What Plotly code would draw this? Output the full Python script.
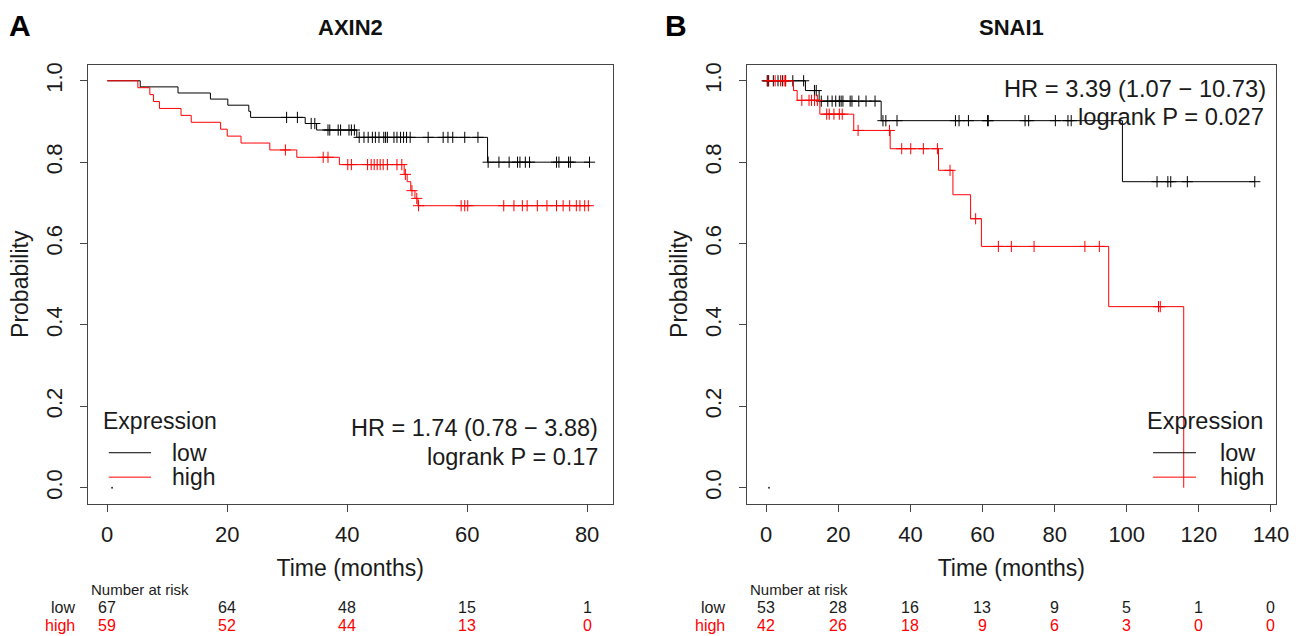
import numpy as np
import plotly.graph_objects as go

FONT = "Liberation Sans, Arial, Helvetica, sans-serif"
W, H = 1308, 636
RED = "#ff0000"
BLK = "#000000"
AX = "#454545"

# ---------------- Panel A: AXIN2 ----------------
axin2_low_event_t = [5.5, 11.8, 17.2, 20.1, 23.6, 23.9, 33.0, 34.9, 41.6, 63.4]
axin2_low_event_s = [0.985, 0.970, 0.955, 0.940, 0.925, 0.910, 0.895, 0.879, 0.861, 0.800]
axin2_low_censor_t = [29.9, 31.7, 34.0, 34.6, 36.8, 37.1, 38.5, 38.9, 40.3, 40.7, 41.2,
                      42.0, 42.8, 43.5, 44.2, 44.7, 45.3, 46.1, 46.4, 46.7, 47.8, 48.3,
                      48.9, 49.4, 49.9, 50.5, 53.5, 56.0, 56.8, 57.6, 59.6, 61.8,
                      63.5, 65.3, 67.0, 68.4, 68.8, 69.7, 70.4, 74.9, 75.3, 76.9, 77.2, 80.4]
axin2_low_end = 80.4

axin2_high_event_t = [5.1, 7.1, 7.7, 8.7, 12.3, 14.0, 18.9, 20.0, 22.3, 27.1, 31.6, 38.7,
                      49.5, 50.0, 50.6, 51.3, 51.8]
axin2_high_event_s = [0.983, 0.966, 0.949, 0.932, 0.915, 0.898, 0.881, 0.864, 0.847, 0.830,
                      0.812, 0.794, 0.770, 0.752, 0.730, 0.711, 0.693]
axin2_high_censor_t = [29.7, 36.0, 36.8, 40.1, 40.7, 43.4, 44.0, 44.5, 45.0, 45.5, 46.0,
                       46.7, 48.3, 49.1, 49.7, 50.8, 51.6, 51.9, 59.0, 59.6, 60.1, 66.1,
                       67.8, 69.2, 70.0, 71.7, 73.3, 74.9, 76.0, 77.1, 78.2, 78.8, 79.6, 80.2]
axin2_high_end = 80.2

axin2_risk_times = [0, 20, 40, 60, 80]
axin2_risk_low = [67, 64, 48, 15, 1]
axin2_risk_high = [59, 52, 44, 13, 0]
axin2_hr_text = ["HR = 1.74 (0.78 \u2212 3.88)", "logrank P = 0.17"]

# ---------------- Panel B: SNAI1 ----------------
snai1_low_event_t = [10.9, 14.7, 31.9, 98.8]
snai1_low_event_s = [0.976, 0.950, 0.902, 0.752]
snai1_low_censor_t = [0.3, 0.5, 0.7, 2.0, 3.3, 4.5, 5.4, 7.4, 10.4, 13.4, 13.9, 15.3, 17.1,
                      18.3, 19.3, 20.3, 20.8, 21.3, 23.3, 23.8, 25.7, 27.7, 30.2, 32.4,
                      33.2, 36.3, 52.5, 53.5, 56.1, 61.4, 61.6, 71.8, 72.8, 80.2, 83.7,
                      84.6, 108.4, 111.4, 112.2, 116.8, 135.5]
snai1_low_end = 135.5

snai1_high_event_t = [7.6, 8.6, 14.9, 24.3, 34.4, 47.8, 51.8, 56.7, 59.7, 95.0, 115.8]
snai1_high_event_s = [0.976, 0.952, 0.918, 0.878, 0.833, 0.780, 0.720, 0.661, 0.593, 0.445, 0.0]
snai1_high_censor_t = [0.5, 2.5, 4.0, 5.0, 5.4, 9.9, 11.9, 12.6, 13.4, 14.2, 16.8, 17.5,
                       18.8, 20.3, 21.1, 25.5, 34.2, 37.6, 40.1, 43.6, 47.5, 51.0, 58.1,
                       64.4, 68.0, 74.3, 88.4, 92.4, 108.8, 109.3]
snai1_high_end = 115.8

snai1_risk_times = [0, 20, 40, 60, 80, 100, 120, 140]
snai1_risk_low = [53, 28, 16, 13, 9, 5, 1, 0]
snai1_risk_high = [42, 26, 18, 9, 6, 3, 0, 0]
snai1_hr_text = ["HR = 3.39 (1.07 \u2212 10.73)", "logrank P = 0.027"]

stray_point = [0.8, 0.0]


def step_xy(t, s, end):
    x = [0.0] + list(t)
    y = [1.0] + list(s)
    if end > x[-1]:
        x.append(end)
        y.append(y[-1])
    return x, y


def surv_at(t_events, s_events, tc):
    levels = np.array([1.0] + list(s_events))
    idx = np.searchsorted(np.array(t_events), np.array(tc), side="right")
    return levels[idx]


fig = go.Figure()


def add_curves(xa, ya, t, s, ct, end, color, name):
    x, y = step_xy(t, s, end)
    fig.add_trace(go.Scatter(x=x, y=y, mode="lines", line=dict(color=color, width=1, shape="hv"),
                             xaxis=xa, yaxis=ya, name=name, showlegend=False, hoverinfo="skip"))
    fig.add_trace(go.Scatter(x=ct, y=surv_at(t, s, ct), mode="markers",
                             marker=dict(symbol="cross-thin", size=8, line=dict(color=color, width=1)),
                             xaxis=xa, yaxis=ya, name=name + " censored", showlegend=False,
                             hoverinfo="skip"))


add_curves("x", "y", axin2_low_event_t, axin2_low_event_s, axin2_low_censor_t, axin2_low_end, BLK, "low")
add_curves("x", "y", axin2_high_event_t, axin2_high_event_s, axin2_high_censor_t, axin2_high_end, RED, "high")
add_curves("x2", "y2", snai1_low_event_t, snai1_low_event_s, snai1_low_censor_t, snai1_low_end, BLK, "low")
add_curves("x2", "y2", snai1_high_event_t, snai1_high_event_s, snai1_high_censor_t, snai1_high_end, RED, "high")

for xa, ya in (("x", "y"), ("x2", "y2")):
    fig.add_trace(go.Scatter(x=[stray_point[0]], y=[stray_point[1]], mode="markers",
                             marker=dict(size=2, color="#333"), xaxis=xa, yaxis=ya,
                             showlegend=False, hoverinfo="skip"))

# layout geometry (pixels)
A_L, A_R = 88.7, 618.7
B_L, B_R = 754.0, 1289.0
TOP, BOT = 62.7, 503.6


def px(v):
    return v / W


def py(v):
    return 1 - v / H


TXT = "#1a1a1a"
common_x = dict(showline=True, mirror=True, linecolor=AX, linewidth=1, ticks="outside",
                ticklen=7, tickcolor=AX, showgrid=False, zeroline=False,
                tickfont=dict(family=FONT, size=22, color=TXT),
                title=dict(text="Time (months)", font=dict(family=FONT, size=23, color=TXT), standoff=13),
                ticklabelstandoff=4)
common_y = dict(showline=True, mirror=True, linecolor=AX, linewidth=1, ticks="outside",
                ticklen=7, tickcolor=AX, showgrid=False, zeroline=False, range=[-0.04, 1.04],
                tickvals=[0, 0.2, 0.4, 0.6, 0.8, 1.0],
                ticktext=["0.0", "0.2", "0.4", "0.6", "0.8", "1.0"], tickangle=-90,
                tickfont=dict(family=FONT, size=22, color=TXT),
                title=dict(text="Probability", font=dict(family=FONT, size=23, color=TXT), standoff=6),
                domain=[py(BOT), py(TOP)], ticklabelstandoff=9)

fig.update_layout(
    width=W, height=H, margin=dict(l=0, r=0, t=0, b=0),
    paper_bgcolor="white", plot_bgcolor="white", showlegend=False,
    font=dict(family=FONT, color=TXT),
    xaxis=dict(common_x, domain=[px(A_L), px(A_R)], range=[-3.24, 84.24],
               tickvals=axin2_risk_times, anchor="y"),
    yaxis=dict(common_y, anchor="x"),
    xaxis2=dict(common_x, domain=[px(B_L), px(B_R)], range=[-5.44, 141.44],
                tickvals=snai1_risk_times, anchor="y2"),
    yaxis2=dict(common_y, anchor="x2"),
)


def note(text, x, y, xref="paper", yref="paper", xanchor="center", size=23, color=TXT):
    return dict(text=text, x=x, y=y, xref=xref, yref=yref, xanchor=xanchor, yanchor="middle",
                showarrow=False, font=dict(family=FONT, size=size, color=color))


ann = []
# Panel letters and titles
ann.append(note("<b>A</b>", px(20), py(24), size=30, color="#000"))
ann.append(note("<b>B</b>", px(683), py(24), size=30, color="#000"))
ann.append(note("<b>AXIN2</b>", px((A_L + A_R) / 2), py(26), size=22, color="#111"))
ann.append(note("<b>SNAI1</b>", px((B_L + B_R) / 2), py(26), size=22, color="#111"))

# HR / logrank text
for txt, yy in zip(axin2_hr_text, [0.146, 0.075]):
    ann.append(note(txt, 82.1, yy, "x", "y", "right", size=23.5))
for txt, yy, xx in zip(snai1_hr_text, [0.980, 0.910], [139.2, 138.5]):
    ann.append(note(txt, xx, yy, "x2", "y2", "right", size=23.7))

# Legends (Expression / low / high)
legend_specs = [
    ("x", "y", -1.1, 0.26, 7.3, 10.5, 23),
    ("x2", "y2", 105.1, 107.3, 119.2, 125.3, 23.5),
]
shapes = []
for xa, ya, tx, lx0, lx1, txx, fs in legend_specs:
    ann.append(note("Expression", tx, 0.165, xa, ya, "left", size=fs))
    for lab, col, yy in (("low", BLK, 0.086), ("high", RED, 0.026)):
        ann.append(note(lab, txx, yy, xa, ya, "left", size=fs))
        shapes.append(dict(type="line", xref=xa, yref=ya, x0=lx0, x1=lx1, y0=yy, y1=yy,
                           line=dict(color=col, width=1)))

# Number at risk tables
for xa, times, lows, highs, nar_x, lab_x in (
        ("x", axin2_risk_times, axin2_risk_low, axin2_risk_high, 90, 78),
        ("x2", snai1_risk_times, snai1_risk_low, snai1_risk_high, 756, 734)):
    ann.append(note("Number at risk", px(nar_x), py(589), xanchor="left", size=15))
    ann.append(note("low", px(lab_x), py(607), xanchor="right", size=16))
    ann.append(note("high", px(lab_x), py(625), xanchor="right", size=16, color=RED))
    for t, lo, hi in zip(times, lows, highs):
        ann.append(note(str(lo), t, py(607), xa, "paper", size=16))
        ann.append(note(str(hi), t, py(625), xa, "paper", size=16, color=RED))

fig.update_layout(annotations=ann, shapes=shapes)
fig.write_html("out.html", config={"displayModeBar": False},
               post_script="document.body.style.margin='0px';")
